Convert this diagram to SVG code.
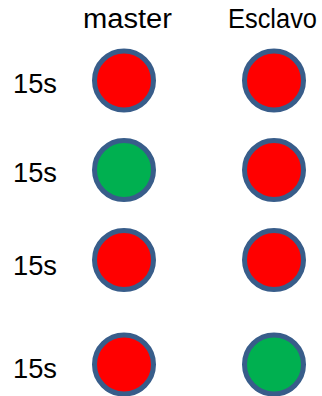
<svg xmlns="http://www.w3.org/2000/svg" width="322" height="396" viewBox="0 0 322 396">
<style>
text{font-family:"Liberation Sans",Arial,sans-serif;fill:#000}
.h{font-size:27px}
.l{font-size:27px}
circle{stroke:#385D8A;stroke-width:5}
.r{fill:#FF0000}
.g{fill:#00B050}
</style>
<rect width="322" height="396" fill="#fff"/>
<g id="header-master"><text class="h" x="83" y="28" textLength="89" lengthAdjust="spacingAndGlyphs">master</text></g>
<g id="header-esclavo"><text class="h" x="228" y="28" textLength="89" lengthAdjust="spacingAndGlyphs">Esclavo</text></g>
<g id="row1">
<text class="l" x="13" y="93" textLength="44" lengthAdjust="spacingAndGlyphs">15s</text>
<circle class="r" cx="124" cy="80.5" r="29.5"/>
<circle class="r" cx="274" cy="80.5" r="29.5"/>
</g>
<g id="row2">
<text class="l" x="13" y="182" textLength="44" lengthAdjust="spacingAndGlyphs">15s</text>
<circle class="g" cx="124" cy="170" r="29.5"/>
<circle class="r" cx="274" cy="170" r="29.5"/>
</g>
<g id="row3">
<text class="l" x="13" y="275" textLength="44" lengthAdjust="spacingAndGlyphs">15s</text>
<circle class="r" cx="124" cy="260" r="29.5"/>
<circle class="r" cx="274" cy="260" r="29.5"/>
</g>
<g id="row4">
<text class="l" x="13" y="378" textLength="44" lengthAdjust="spacingAndGlyphs">15s</text>
<circle class="r" cx="124" cy="364.5" r="29.5"/>
<circle class="g" cx="274" cy="364.5" r="29.5"/>
</g>
<g id="connectors"/>
</svg>
